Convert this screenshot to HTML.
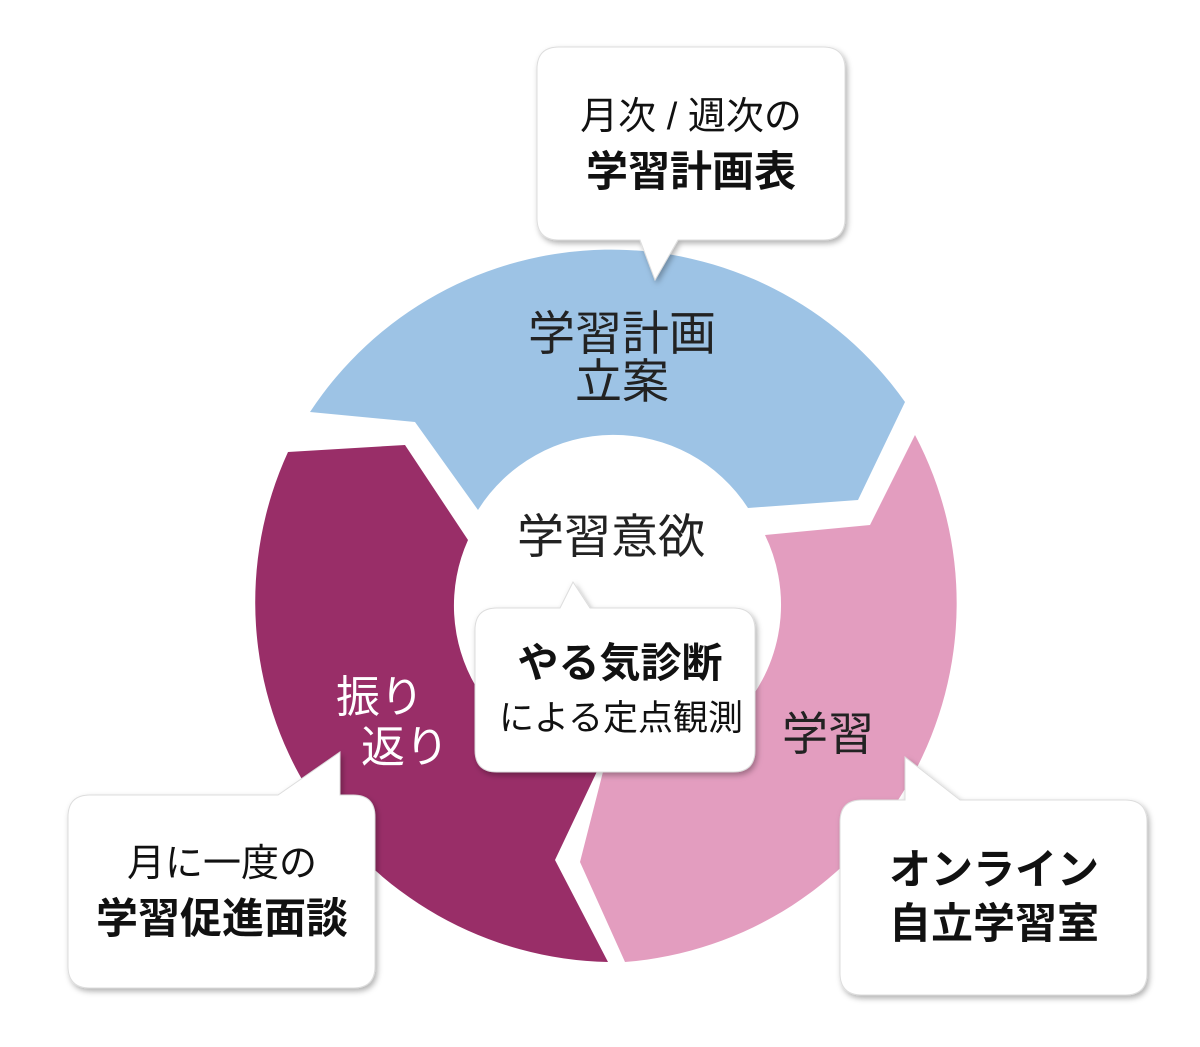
<!DOCTYPE html>
<html><head><meta charset="utf-8"><style>
html,body{margin:0;padding:0;background:#fff;}
body{width:1200px;height:1042px;overflow:hidden;}
svg text{font-family:"Liberation Sans","Noto Sans CJK JP",sans-serif;}
</style></head><body>
<svg width="1200" height="1042" viewBox="0 0 1200 1042" xmlns="http://www.w3.org/2000/svg">
<defs>
<filter id="sh" x="-20%" y="-20%" width="140%" height="140%">
<feDropShadow dx="2" dy="3" stdDeviation="3" flood-color="#000" flood-opacity="0.3"/>
</filter>
</defs>
<path d="M310,412 A360,360 0 0 1 905,402 L858,500 L748,508 A160,160 0 0 0 478,510 L415,422 Z" fill="#9dc3e5"/>
<path d="M915,435 A360,360 0 0 1 625,962 L580,862 L605,764 A160,160 0 0 0 765,535 L870,525 Z" fill="#e39dbf"/>
<path d="M288,452 L405,445 L468,540 A160,160 0 0 0 600,765 L555,860 L608,962 A360,360 0 0 1 288,452 Z" fill="#992e68"/>

<g fill="#222" font-size="47" text-anchor="middle">
<text x="622" y="350">学習計画</text>
<text x="622" y="398">立案</text>
</g>
<text x="611" y="553" font-size="47" fill="#222" text-anchor="middle">学習意欲</text>
<text x="828" y="750" font-size="46" fill="#222" text-anchor="middle">学習</text>
<g fill="#fff" font-size="44" text-anchor="middle">
<text x="380" y="712">振り</text>
<text x="405" y="762">返り</text>
</g>

<g filter="url(#sh)" fill="#fff" stroke="#ddd" stroke-width="1">
<path d="M559,47 H823 Q845,47 845,69 V218 Q845,240 823,240 H678 L655,280 L640,240 H559 Q537,240 537,218 V69 Q537,47 559,47 Z"/>
<path d="M90,795 H278 L340,752 L340,795 H353 Q375,795 375,817 V966 Q375,988 353,988 H90 Q68,988 68,966 V817 Q68,795 90,795 Z"/>
<path d="M862,800 H905 L905,757 L960,800 H1125 Q1147,800 1147,822 V973 Q1147,995 1125,995 H862 Q840,995 840,973 V822 Q840,800 862,800 Z"/>
<path d="M497,608 H560 L573,582 L590,608 H733 Q755,608 755,630 V750 Q755,772 733,772 H497 Q475,772 475,750 V630 Q475,608 497,608 Z"/>
</g>

<g fill="#111" text-anchor="middle">
<text x="691" y="129" font-size="38">月次 / 週次の</text>
<text x="691" y="186" font-size="42" font-weight="bold">学習計画表</text>
<text x="620" y="677" font-size="41" font-weight="bold">やる気診断</text>
<text x="621" y="730" font-size="35">による定点観測</text>
<text x="222" y="876" font-size="38">月に一度の</text>
<text x="222" y="933" font-size="42" font-weight="bold">学習促進面談</text>
<text x="994" y="884" font-size="42" font-weight="bold">オンライン</text>
<text x="994" y="938" font-size="42" font-weight="bold">自立学習室</text>
</g>
</svg>
</body></html>
